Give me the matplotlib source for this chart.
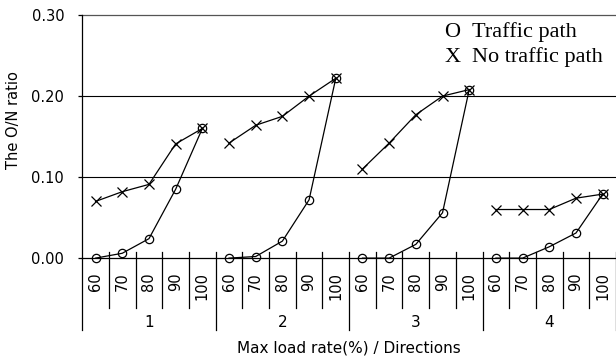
import numpy as np
import matplotlib.pyplot as plt
from matplotlib.transforms import blended_transform_factory

directions = ['1', '2', '3', '4']
load_rates = ['60', '70', '80', '90', '100']

# O/N ratio per direction, one value per max load rate
traffic_path = [
    [0.000, 0.006, 0.024, 0.085, 0.160],
    [0.000, 0.002, 0.021, 0.072, 0.222],
    [0.000, 0.000, 0.017, 0.056, 0.208],
    [0.000, 0.000, 0.014, 0.031, 0.079],
]
no_traffic_path = [
    [0.070, 0.082, 0.091, 0.141, 0.160],
    [0.142, 0.164, 0.175, 0.200, 0.222],
    [0.110, 0.142, 0.177, 0.200, 0.208],
    [0.060, 0.060, 0.060, 0.074, 0.079],
]

fig = plt.figure(figsize=(6.16, 3.59), dpi=100)
ax = fig.add_axes([0.1335, 0.281, 0.8665, 0.677])

n = len(load_rates)
for g in range(len(directions)):
    x = np.arange(n) + g * n + 0.5
    ax.plot(x, traffic_path[g], color='black', lw=0.9, marker='o', ms=6,
            mfc='none', mec='black', mew=0.9, clip_on=False)
    ax.plot(x, no_traffic_path[g], color='black', lw=0.9, marker='x', ms=7,
            mec='black', mew=0.9, clip_on=False)

ax.set_xlim(0, n * len(directions))
ax.set_ylim(0, 0.30)
ax.set_yticks([0.0, 0.1, 0.2, 0.3])
ax.set_yticklabels(['0.00', '0.10', '0.20', '0.30'])
ax.tick_params(axis='y', length=3, width=0.9, pad=10, labelsize=10.5)
for yv in [0.1, 0.2]:
    ax.axhline(yv, color='black', lw=0.8, clip_on=False)
ax.axhline(0.3, color='#555555', lw=0.9, clip_on=False)

for s in ['top', 'right']:
    ax.spines[s].set_visible(False)
ax.spines['left'].set_linewidth(0.9)
ax.spines['bottom'].set_linewidth(0.9)
ax.spines['left'].set_bounds(0, 0.30)

# category axis: rotated load rates, separators and direction labels
ax.set_xticks([])
trans = blended_transform_factory(ax.transData, ax.transAxes)
for i in range(n * len(directions) + 1):
    bottom = -0.296 if i % n == 0 else -0.206
    top = 0.0 if i == 0 else 0.025
    ax.plot([i, i], [bottom, top], color='black', lw=0.9,
            transform=trans, clip_on=False)
for i in range(n * len(directions)):
    ax.text(i + 0.5, -0.058, load_rates[i % n], rotation=90, ha='center',
            va='top', fontsize=10.5, transform=trans)
for g, d in enumerate(directions):
    ax.text(g * n + n / 2, -0.263, d, ha='center', va='center',
            fontsize=11, transform=trans)

ax.text(0.5, -0.37, 'Max load rate(%) / Directions', ha='center',
        va='center', fontsize=11, transform=ax.transAxes)
ax.set_ylabel('The O/N ratio', fontsize=10.5)
ax.yaxis.set_label_coords(-0.115, 0.568)

serif = 'Liberation Serif'
ax.text(0.678, 0.93, 'O', family=serif, fontsize=16, va='center',
        transform=ax.transAxes)
ax.text(0.730, 0.93, 'Traffic path', family=serif, fontsize=16,
        va='center', transform=ax.transAxes)
ax.text(0.678, 0.827, 'X', family=serif, fontsize=16, va='center',
        transform=ax.transAxes)
ax.text(0.730, 0.827, 'No traffic path', family=serif, fontsize=16,
        va='center', transform=ax.transAxes)

fig.savefig('out.png', dpi=100)
